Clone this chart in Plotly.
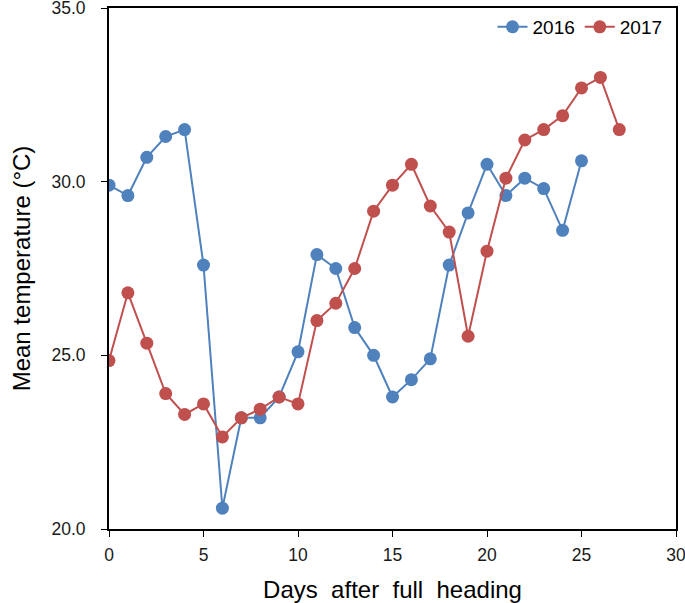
import plotly.graph_objects as go

days_2016 = list(range(0, 26))
temp_2016 = [29.9, 29.6, 30.7, 31.3, 31.5, 27.6, 20.6, 23.2, 23.2, 23.8,
             25.1, 27.9, 27.5, 25.8, 25.0, 23.8, 24.3, 24.9, 27.6, 29.1,
             30.5, 29.6, 30.1, 29.8, 28.6, 30.6]
days_2017 = list(range(0, 28))
temp_2017 = [24.85, 26.8, 25.35, 23.9, 23.3, 23.6, 22.65, 23.2, 23.45, 23.8,
             23.6, 26.0, 26.5, 27.5, 29.15, 29.9, 30.5, 29.3, 28.55, 25.55,
             28.0, 30.1, 31.2, 31.5, 31.9, 32.7, 33.0, 31.5]

x_ticks = [0, 5, 10, 15, 20, 25, 30]
y_ticks = [20, 25, 30, 35]
y_tick_labels = ["20.0", "25.0", "30.0", "35.0"]

blue = "#4F81BD"
red = "#C0504D"
font_family = "Liberation Sans, Arial, sans-serif"

fig = go.Figure()
fig.add_trace(go.Scatter(x=days_2016, y=temp_2016, name="2016", mode="lines+markers",
                         line=dict(color=blue, width=2), marker=dict(color=blue, size=13)))
fig.add_trace(go.Scatter(x=days_2017, y=temp_2017, name="2017", mode="lines+markers",
                         line=dict(color=red, width=2), marker=dict(color=red, size=13)))

fig.update_layout(
    width=685, height=603,
    margin=dict(l=109, r=9, t=8, b=74),
    paper_bgcolor="white", plot_bgcolor="white",
    font=dict(family=font_family, color="black", size=17),
    showlegend=True,
    legend=dict(orientation="h", x=0.985, xanchor="right", y=1.0, yanchor="top",
                bgcolor="rgba(0,0,0,0)", font=dict(size=19), itemwidth=30,
                traceorder="normal"),
)
fig.update_xaxes(range=[0, 30], tickvals=x_ticks, ticks="outside", ticklen=6,
                 tickcolor="black", showline=True, linecolor="black", linewidth=1.8,
                 mirror=True, showgrid=False, zeroline=False, automargin=False,
                 ticklabeloverflow="allow",
                 tickfont=dict(size=17.5, color="#1a1a1a"), ticklabelstandoff=3,
                 title=dict(text="Days&#160;&#160;after&#160;&#160;full&#160;&#160;heading",
                            font=dict(size=24), standoff=20))
fig.update_yaxes(range=[20, 35], tickvals=y_ticks, ticktext=y_tick_labels, ticks="outside",
                 ticklen=6, tickcolor="black", showline=True, linecolor="black",
                 linewidth=1.8, mirror=True, showgrid=False, zeroline=False, automargin=False,
                 ticklabeloverflow="allow",
                 tickfont=dict(size=17.5, color="#1a1a1a"), ticklabelstandoff=12,
                 title=dict(text="Mean temperature (°C)", font=dict(size=24), standoff=14))

fig.write_html("out.html", config={"displayModeBar": False},
               post_script="document.body.style.margin='0';")
